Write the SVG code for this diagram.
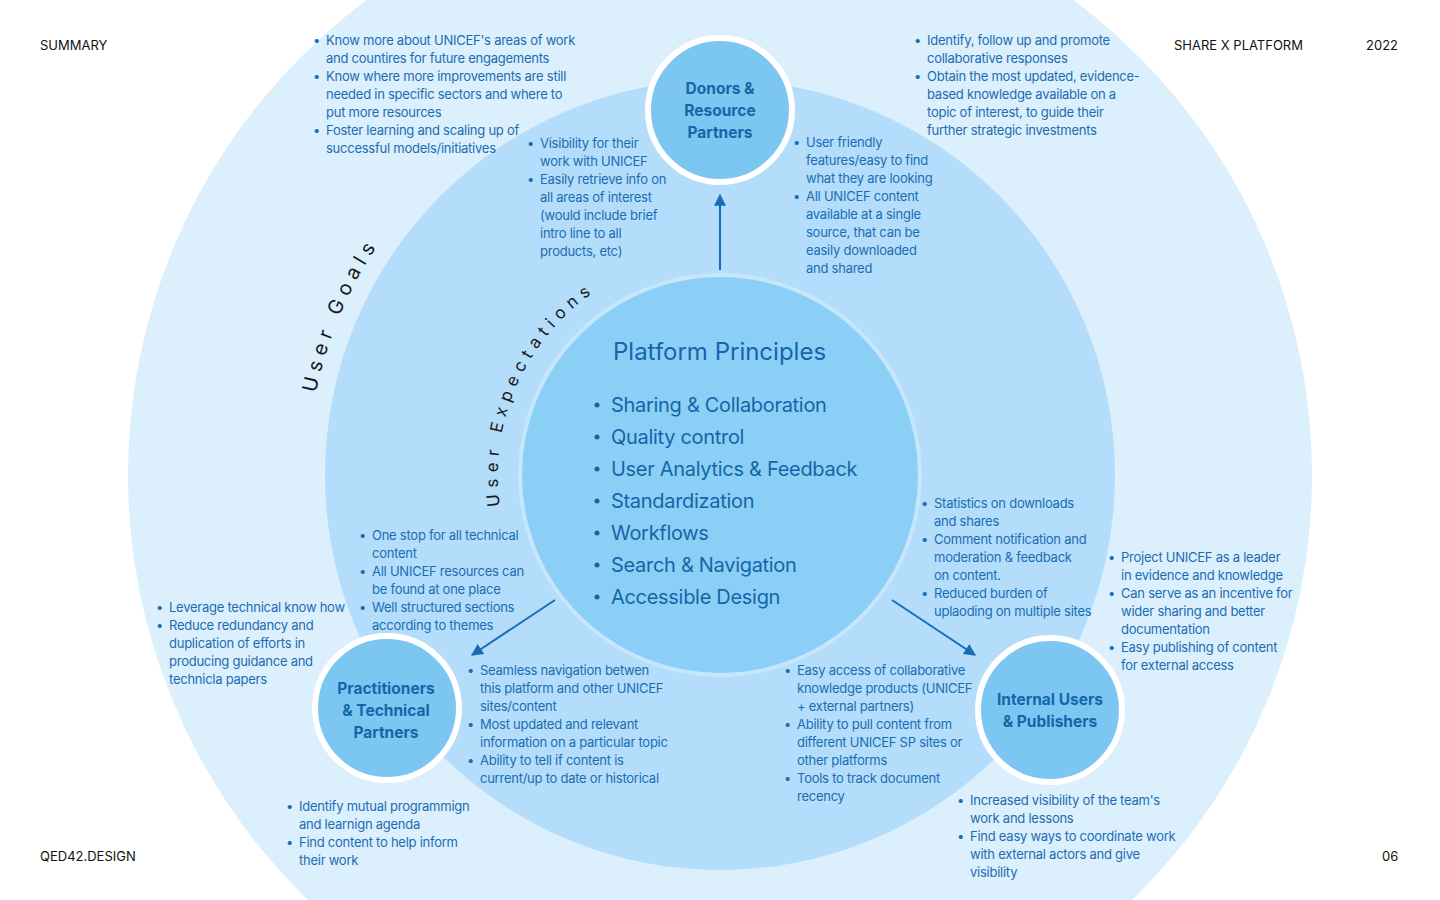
<svg xmlns="http://www.w3.org/2000/svg" width="1440" height="900" viewBox="0 0 1440 900">
<style>
.t{font-family:Inter,"Noto Sans",sans-serif;font-size:13px;letter-spacing:-0.25px;fill:#1a6db3}
.h{font-family:Inter,"Noto Sans",sans-serif;font-size:13px;fill:#111}
.p{font-family:Inter,"Noto Sans",sans-serif;font-size:20px;letter-spacing:-0.3px;fill:#1466a8}
.pt{font-family:Inter,"Noto Sans",sans-serif;font-size:24px;letter-spacing:0px;fill:#1466a8}
.n{font-family:Inter,"Noto Sans",sans-serif;font-size:15.5px;font-weight:700;fill:#1466a8;text-anchor:middle}
.c{font-family:Inter,"Noto Sans",sans-serif;fill:#1a1a1a}
.sm{fill:#7cc6f2;stroke:#fff;stroke-width:6}
.ar{stroke:#1a6db3;stroke-width:2;fill:none;marker-end:url(#ah)}
.b{fill:#1466a8}
</style>
<defs>
<marker id="ah" viewBox="0 0 10 10" refX="9" refY="5" markerWidth="6" markerHeight="6" orient="auto"><path d="M0 0L10 5L0 10z" fill="#1a6db3"/></marker>
<path id="g1" d="M316 393 A412 412 0 0 1 791 69"/>
<path id="g2" d="M500 506 A222 222 0 0 1 831 283"/>
</defs>
<rect width="1440" height="900" fill="#fff"/>
<g id="rings">
<circle cx="720" cy="475" r="592" fill="#dcEFFC"/>
<circle cx="720" cy="475" r="395" fill="#b3DDFA"/>
<circle cx="720" cy="475" r="200" fill="#8ccff6" stroke="#c6e7fb" stroke-width="4"/>
</g>
<g id="curved">
<text class="c" font-size="20" letter-spacing="6"><textPath href="#g1">User Goals</textPath></text>
<text class="c" font-size="17" letter-spacing="6"><textPath href="#g2">User Expectations</textPath></text>
</g>
<g id="header">
<text class="h" x="40" y="50">SUMMARY</text>
<text class="h" x="1174" y="50">SHARE X PLATFORM</text>
<text class="h" x="1366" y="50">2022</text>
<text class="h" x="40" y="861">QED42.DESIGN</text>
<text class="h" x="1382" y="861">06</text>
</g>
<g id="connectors">
<line class="ar" x1="720" y1="270" x2="720" y2="195"/>
<line class="ar" x1="555" y1="600" x2="472" y2="655"/>
<line class="ar" x1="892" y1="600" x2="975" y2="655"/>
</g>
<g id="principles">
<text class="pt" x="613" y="360">Platform Principles</text>
<g class="b">
<circle cx="597" cy="405" r="2.5"/><circle cx="597" cy="437" r="2.5"/><circle cx="597" cy="469" r="2.5"/><circle cx="597" cy="501" r="2.5"/><circle cx="597" cy="533" r="2.5"/><circle cx="597" cy="565" r="2.5"/><circle cx="597" cy="597" r="2.5"/>
</g>
<g class="p">
<text x="611" y="412">Sharing &amp; Collaboration</text>
<text x="611" y="444">Quality control</text>
<text x="611" y="476">User Analytics &amp; Feedback</text>
<text x="611" y="508">Standardization</text>
<text x="611" y="540">Workflows</text>
<text x="611" y="572">Search &amp; Navigation</text>
<text x="611" y="604">Accessible Design</text>
</g>
</g>
<g id="donors">
<circle class="sm" cx="720" cy="110" r="72"/>
<text class="n" x="720" y="94">Donors &amp;</text>
<text class="n" x="720" y="116">Resource</text>
<text class="n" x="720" y="138">Partners</text>
</g>
<g id="practitioners">
<circle class="sm" cx="387" cy="708" r="72"/>
<text class="n" x="386" y="694">Practitioners</text>
<text class="n" x="386" y="716">&amp; Technical</text>
<text class="n" x="386" y="738">Partners</text>
</g>
<g id="internal">
<circle class="sm" cx="1050" cy="710" r="72"/>
<text class="n" x="1050" y="705">Internal Users</text>
<text class="n" x="1050" y="727">&amp; Publishers</text>
</g>
<g id="texts" class="t">
<g><text x="313" y="45">•</text><text x="326" y="45">Know more about UNICEF's areas of work</text><text x="326" y="63">and countires for future engagements</text>
<text x="313" y="81">•</text><text x="326" y="81">Know where more improvements are still</text><text x="326" y="99">needed in specific sectors and where to</text><text x="326" y="117">put more resources</text>
<text x="313" y="135">•</text><text x="326" y="135">Foster learning and scaling up of</text><text x="326" y="153">successful models/initiatives</text></g>
<g><text x="527" y="148">•</text><text x="540" y="148">Visibility for their</text><text x="540" y="166">work with UNICEF</text><text x="527" y="184">•</text><text x="540" y="184">Easily retrieve info on</text><text x="540" y="202">all areas of interest</text><text x="540" y="220">(would include brief</text><text x="540" y="238">intro line to all</text><text x="540" y="256">products, etc)</text></g>
<g><text x="793" y="147">•</text><text x="806" y="147">User friendly</text><text x="806" y="165">features/easy to find</text><text x="806" y="183">what they are looking</text><text x="793" y="201">•</text><text x="806" y="201">All UNICEF content</text><text x="806" y="219">available at a single</text><text x="806" y="237">source, that can be</text><text x="806" y="255">easily downloaded</text><text x="806" y="273">and shared</text></g>
<g><text x="914" y="45">•</text><text x="927" y="45">Identify, follow up and promote</text><text x="927" y="63">collaborative responses</text><text x="914" y="81">•</text><text x="927" y="81">Obtain the most updated, evidence-</text><text x="927" y="99">based knowledge available on a</text><text x="927" y="117">topic of interest, to guide their</text><text x="927" y="135">further strategic investments</text></g>
<g><text x="359" y="540">•</text><text x="372" y="540">One stop for all technical</text><text x="372" y="558">content</text><text x="359" y="576">•</text><text x="372" y="576">All UNICEF resources can</text><text x="372" y="594">be found at one place</text><text x="359" y="612">•</text><text x="372" y="612">Well structured sections</text><text x="372" y="630">according to themes</text></g>
<g><text x="156" y="612">•</text><text x="169" y="612">Leverage technical know how</text><text x="156" y="630">•</text><text x="169" y="630">Reduce redundancy and</text><text x="169" y="648">duplication of efforts in</text><text x="169" y="666">producing guidance and</text><text x="169" y="684">technicla papers</text></g>
<g><text x="286" y="811">•</text><text x="299" y="811">Identify mutual programmign</text><text x="299" y="829">and learnign agenda</text><text x="286" y="847">•</text><text x="299" y="847">Find content to help inform</text><text x="299" y="865">their work</text></g>
<g><text x="467" y="675">•</text><text x="480" y="675">Seamless navigation betwen</text><text x="480" y="693">this platform and other UNICEF</text><text x="480" y="711">sites/content</text><text x="467" y="729">•</text><text x="480" y="729">Most updated and relevant</text><text x="480" y="747">information on a particular topic</text><text x="467" y="765">•</text><text x="480" y="765">Ability to tell if content is</text><text x="480" y="783">current/up to date or historical</text></g>
<g><text x="784" y="675">•</text><text x="797" y="675">Easy access of collaborative</text><text x="797" y="693">knowledge products (UNICEF</text><text x="797" y="711">+ external partners)</text><text x="784" y="729">•</text><text x="797" y="729">Ability to pull content from</text><text x="797" y="747">different UNICEF SP sites or</text><text x="797" y="765">other platforms</text><text x="784" y="783">•</text><text x="797" y="783">Tools to track document</text><text x="797" y="801">recency</text></g>
<g><text x="921" y="508">•</text><text x="934" y="508">Statistics on downloads</text><text x="934" y="526">and shares</text><text x="921" y="544">•</text><text x="934" y="544">Comment notification and</text><text x="934" y="562">moderation  &amp; feedback</text><text x="934" y="580">on content.</text><text x="921" y="598">•</text><text x="934" y="598">Reduced burden of</text><text x="934" y="616">uplaoding on multiple sites</text></g>
<g><text x="1108" y="562">•</text><text x="1121" y="562">Project UNICEF as a leader</text><text x="1121" y="580">in evidence and knowledge</text><text x="1108" y="598">•</text><text x="1121" y="598">Can serve as an incentive for</text><text x="1121" y="616">wider sharing and better</text><text x="1121" y="634">documentation</text><text x="1108" y="652">•</text><text x="1121" y="652">Easy publishing of content</text><text x="1121" y="670">for external access</text></g>
<g><text x="957" y="805">•</text><text x="970" y="805">Increased visibility of the team's</text><text x="970" y="823">work and lessons</text><text x="957" y="841">•</text><text x="970" y="841">Find easy ways to coordinate work</text><text x="970" y="859">with external actors and give</text><text x="970" y="877">visibility</text></g>
</g>
</svg>
